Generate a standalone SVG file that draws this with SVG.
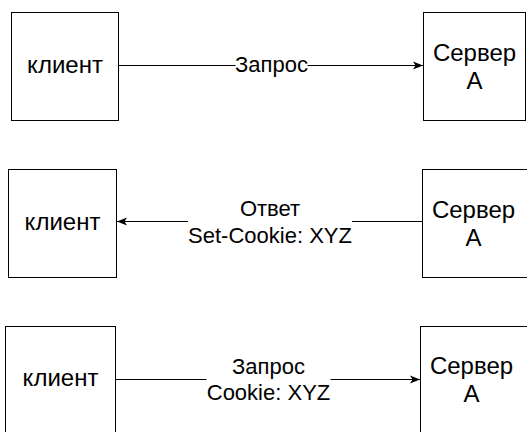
<svg xmlns="http://www.w3.org/2000/svg" width="527" height="432" viewBox="0 0 527 432">
<style>
.box{fill:#fff;stroke:#000;stroke-width:1}
.node{font-family:"Liberation Sans",Arial,sans-serif;font-size:24px;fill:#000;text-anchor:middle}
.lbl{font-family:"Liberation Sans",Arial,sans-serif;font-size:22px;fill:#000;text-anchor:middle}
.edge{stroke:#000;stroke-width:1;fill:none}
.bg{fill:#fff}
</style>
<defs>
<marker id="arr" viewBox="0 0 10 10" refX="10" refY="5" markerWidth="10" markerHeight="10" markerUnits="userSpaceOnUse" orient="auto">
<path d="M0,1 L10,5 L0,9 L2.5,5 Z" fill="#000"/>
</marker>
</defs>
<rect width="527" height="432" fill="#fff"/>
<g id="connectors">
<path class="edge" d="M118.5,65.5 H423" marker-end="url(#arr)"/>
<path class="edge" d="M422.5,221.5 H117" marker-end="url(#arr)"/>
<path class="edge" d="M115.5,379.5 H420" marker-end="url(#arr)"/>
<rect class="bg" x="235.5" y="55" width="72" height="22"/>
<text class="lbl" x="271.5" y="72">Запрос</text>
<rect class="bg" x="188" y="196" width="164" height="52"/>
<text class="lbl" x="270" y="216">Ответ</text>
<text class="lbl" x="270" y="242.5">Set-Cookie: XYZ</text>
<rect class="bg" x="206.5" y="353" width="124" height="52"/>
<text class="lbl" x="268.5" y="373.5">Запрос</text>
<text class="lbl" x="268.5" y="400">Cookie: XYZ</text>
</g>
<g id="client1"><rect class="box" x="11.5" y="12.5" width="107" height="108"/><text class="node" x="65" y="73">клиент</text></g>
<g id="server1"><rect class="box" x="423.5" y="12.5" width="102" height="108"/><text class="node" x="474.5" y="61">Сервер</text><text class="node" x="474.5" y="89">А</text></g>
<g id="client2"><rect class="box" x="8.5" y="169.5" width="108" height="108"/><text class="node" x="62.5" y="230">клиент</text></g>
<g id="server2"><rect class="box" x="422.5" y="169.5" width="110" height="108"/><text class="node" x="473.5" y="218">Сервер</text><text class="node" x="473.5" y="246">А</text></g>
<g id="client3"><rect class="box" x="5.5" y="326.5" width="110" height="110"/><text class="node" x="60.5" y="386">клиент</text></g>
<g id="server3"><rect class="box" x="420.5" y="326.5" width="110" height="110"/><text class="node" x="471.5" y="374">Сервер</text><text class="node" x="471.5" y="402">А</text></g>
</svg>
